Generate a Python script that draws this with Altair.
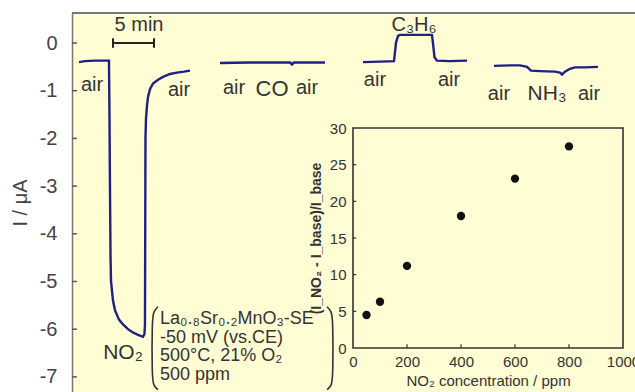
import altair as alt
import pandas as pd

# ---------------- main transient current traces (time in min, current in uA)
no2_t = [0.85, 1.59, 2.80, 4.51, 4.57, 4.63, 4.70, 4.76, 5.00, 5.24, 5.73, 6.22, 6.83, 7.44, 8.05, 8.66, 8.84,
         8.90, 8.93, 8.96, 9.02, 9.15, 9.27, 9.51, 9.88, 10.49, 11.10, 11.95, 12.80, 13.66, 14.39]
no2_i = [-0.40, -0.38, -0.37, -0.37, -1.5, -3.0, -4.5, -5.0, -5.4, -5.6, -5.8, -5.9, -6.0, -6.07, -6.12, -6.16, -6.1,
         -5.9, -4.0, -2.0, -1.6, -1.3, -1.13, -0.97, -0.85, -0.77, -0.71, -0.65, -0.62, -0.60, -0.58]

co_t = [18.05, 21.71, 26.59, 26.83, 27.07, 30.85]
co_i = [-0.42, -0.41, -0.41, -0.45, -0.41, -0.41]

c3h6_t = [35.49, 37.56, 39.27, 39.51, 39.76, 40.00, 42.44, 43.90, 44.02, 44.21, 44.51, 46.10, 48.17]
c3h6_i = [-0.40, -0.39, -0.38, 0.0, 0.15, 0.17, 0.17, 0.17, 0.0, -0.30, -0.37, -0.38, -0.37]

nh3_t = [51.46, 53.41, 54.63, 55.49, 55.98, 57.07, 58.90, 59.51, 59.76, 60.12, 60.73, 61.34, 62.56, 64.15]
nh3_i = [-0.48, -0.47, -0.47, -0.50, -0.58, -0.59, -0.60, -0.62, -0.66, -0.60, -0.54, -0.51, -0.51, -0.50]

y_ticks = [-7, -6, -5, -4, -3, -2, -1, 0]

# ---------------- inset data
inset_ppm = [50, 100, 200, 400, 600, 800]
inset_ratio = [4.5, 6.3, 11.2, 18.0, 23.1, 27.5]
inset_x_ticks = [0, 200, 400, 600, 800, 1000]
inset_y_ticks = [0, 5, 10, 15, 20, 25, 30]

# ---------------- labels
gas_labels = ["air", "air", "air", "CO", "air", "C₃H₆", "air", "air", "air", "NH₃", "air", "NO₂"]
gas_label_t = [2.44, 13.05, 19.76, 24.39, 28.66, 41.71, 36.95, 45.98, 52.07, 57.93, 63.05, 6.22]
gas_label_i = [-0.88, -0.99, -0.94, -0.96, -0.94, 0.38, -0.78, -0.78, -1.07, -1.07, -1.07, -6.5]
gas_label_size = [20, 20, 20, 22, 20, 20, 20, 20, 20, 21, 20, 21]

cond_lines = ["La₀.₈Sr₀.₂MnO₃-SE", "-50 mV (vs.CE)", "500°C, 21% O₂", "500 ppm"]

FONT = "Liberation Sans, Arial, sans-serif"
NARROW = "Liberation Sans Narrow, Liberation Sans, Arial, sans-serif"
BG = "#FFFDD4"
LINE = "#1F1F86"
TXT = "#333333"

W, H = 563, 379

frames = []
for name, t, i in [("NO2", no2_t, no2_i), ("CO", co_t, co_i), ("C3H6", c3h6_t, c3h6_i), ("NH3", nh3_t, nh3_i)]:
    frames.append(pd.DataFrame({"t": t, "I": i, "gas": name, "o": range(len(t))}))
traces = pd.concat(frames, ignore_index=True)

xs = alt.Scale(domain=[0, 68.66], nice=False, zero=False)
ys = alt.Scale(domain=[-7.317, 0.629], nice=False, zero=False)

main_axis = alt.Axis(values=y_ticks, title="I / μA", labelExpr="replace(datum.label, '−', '-')",
                     ticks=False, tickSize=0, labelPadding=15, labelFontSize=20, labelFont=FONT,
                     labelColor="#444444", domainColor="#777777", domainWidth=1.5, grid=False,
                     titleFont=FONT, titleFontSize=20, titleFontWeight="normal", titleColor="#444444",
                     titlePadding=9)

lines = alt.Chart(traces).mark_line(color=LINE, strokeWidth=2.4).encode(
    x=alt.X("t:Q", scale=xs, axis=None),
    y=alt.Y("I:Q", scale=ys, axis=main_axis),
    detail="gas:N", order="o:Q")

tick_df = pd.DataFrame({"v": y_ticks, "a": 0.0, "b": 0.6})
main_ticks = alt.Chart(tick_df).mark_rule(color="#555555", strokeWidth=1.5).encode(
    x=alt.X("a:Q", scale=xs, axis=None), x2="b:Q",
    y=alt.Y("v:Q", scale=ys, axis=None))

top_border = alt.Chart(pd.DataFrame({"v": [0.629]})).mark_rule(color="#777777", strokeWidth=2).encode(
    x=alt.value(0), x2=alt.value(W), y=alt.Y("v:Q", scale=ys, axis=None))

# scale bar "5 min"
bar_df = pd.DataFrame({"a": [5.0], "b": [10.0], "v": [0.0]})
scale_bar = alt.Chart(bar_df).mark_rule(color="#222222", strokeWidth=2).encode(
    x=alt.X("a:Q", scale=xs, axis=None), x2="b:Q", y=alt.Y("v:Q", scale=ys, axis=None))
caps_df = pd.DataFrame({"a": [5.0, 10.0], "lo": [-0.1, -0.1], "hi": [0.1, 0.1]})
scale_caps = alt.Chart(caps_df).mark_rule(color="#222222", strokeWidth=2).encode(
    x=alt.X("a:Q", scale=xs, axis=None), y=alt.Y("lo:Q", scale=ys, axis=None), y2="hi:Q")
scale_txt = alt.Chart(pd.DataFrame({"t": [8.17], "I": [0.38], "s": ["5 min"]})).mark_text(
    font=FONT, fontSize=20, color=TXT, baseline="middle").encode(
    x=alt.X("t:Q", scale=xs, axis=None), y=alt.Y("I:Q", scale=ys, axis=None), text="s:N")

lab_df = pd.DataFrame({"t": gas_label_t, "I": gas_label_i, "s": gas_labels, "fs": gas_label_size})
gas_text = alt.Chart(lab_df).mark_text(font=FONT, color=TXT, baseline="middle").encode(
    x=alt.X("t:Q", scale=xs, axis=None), y=alt.Y("I:Q", scale=ys, axis=None), text="s:N",
    size=alt.Size("fs:Q", scale=None, legend=None))

cond_text = alt.Chart(pd.DataFrame({"t": [10.73], "I": [-5.79]})).mark_text(
    text=cond_lines, font=FONT, fontSize=18, lineHeight=18.5, color=TXT, align="left", baseline="middle").encode(
    x=alt.X("t:Q", scale=xs, axis=None), y=alt.Y("I:Q", scale=ys, axis=None))

br_left = pd.DataFrame({"t": [10.49, 9.95, 9.76, 9.76, 9.95, 10.49],
                        "I": [-5.53, -5.62, -5.81, -7.02, -7.19, -7.27], "o": range(6), "k": "L"})
br_right = pd.DataFrame({"t": [31.10, 31.64, 31.83, 31.83, 31.64, 31.10],
                         "I": [-5.53, -5.62, -5.81, -7.02, -7.19, -7.27], "o": range(6), "k": "R"})
brackets = alt.Chart(pd.concat([br_left, br_right])).mark_line(
    color="#333333", strokeWidth=1.6, interpolate="basis").encode(
    x=alt.X("t:Q", scale=xs, axis=None), y=alt.Y("I:Q", scale=ys, axis=None), detail="k:N", order="o:Q")

# ---------------- inset
ixs = alt.Scale(domain=[0, 1000], range=[281, 551], nice=False, zero=False)
iys = alt.Scale(domain=[0, 30], range=[335, 115], nice=False, zero=False)

ix_axis = alt.Axis(orient="bottom", offset=-44, values=inset_x_ticks, format="d", ticks=False, tickSize=0,
                   labelPadding=6, labelFont=NARROW, labelFontSize=15, labelColor=TXT, domain=False,
                   grid=False, title="NO₂ concentration / ppm", titleFont=FONT, titleFontSize=15,
                   titleFontWeight="normal", titleColor=TXT, titlePadding=4, labelFlush=False)
iy_axis = alt.Axis(orient="left", offset=-281, values=inset_y_ticks, format="d", ticks=False, tickSize=0,
                   labelPadding=7, labelFont=NARROW, labelFontSize=15, labelColor=TXT, domain=False,
                   grid=False, title="(I_NO₂ - I_base)/I_base", titleFont=NARROW, titleFontSize=14,
                   titleFontWeight="bold", titleColor=TXT, titlePadding=6, labelFlush=False)

inset_df = pd.DataFrame({"ppm": inset_ppm, "r": inset_ratio})
inset_pts = alt.Chart(inset_df).mark_circle(color="#111111", opacity=1, size=70).encode(
    x=alt.X("ppm:Q", scale=ixs, axis=ix_axis), y=alt.Y("r:Q", scale=iys, axis=iy_axis))

frame = alt.Chart(pd.DataFrame({"a": [0], "b": [1000], "c": [0], "d": [30]})).mark_rect(
    fill="transparent", stroke="#333333", strokeWidth=1.6).encode(
    x=alt.X("a:Q", scale=ixs, axis=None), x2="b:Q", y=alt.Y("c:Q", scale=iys, axis=None), y2="d:Q")

ity = pd.DataFrame({"v": inset_y_ticks[1:-1], "a": 0, "b": 12})
itick_y = alt.Chart(ity).mark_rule(color="#333333", strokeWidth=1.2).encode(
    x=alt.X("a:Q", scale=ixs, axis=None), x2="b:Q", y=alt.Y("v:Q", scale=iys, axis=None))
itx = pd.DataFrame({"v": inset_x_ticks[1:-1], "a": 0, "b": 0.5})
itick_x = alt.Chart(itx).mark_rule(color="#333333", strokeWidth=1.2).encode(
    x=alt.X("v:Q", scale=ixs, axis=None), y=alt.Y("a:Q", scale=iys, axis=None), y2="b:Q")

chart = alt.layer(
    lines, main_ticks, top_border, scale_bar, scale_caps, scale_txt, gas_text, cond_text, brackets,
    frame, itick_y, itick_x, inset_pts
).resolve_scale(x="independent", y="independent").properties(
    width=W, height=H, autosize=alt.AutoSizeParams(type="none"),
    padding={"left": 72, "top": 13, "right": 0, "bottom": 0},
    background="white"
).configure_view(fill=BG, stroke="transparent")

chart.save("out.html", embed_options={"renderer": "svg", "actions": False})
